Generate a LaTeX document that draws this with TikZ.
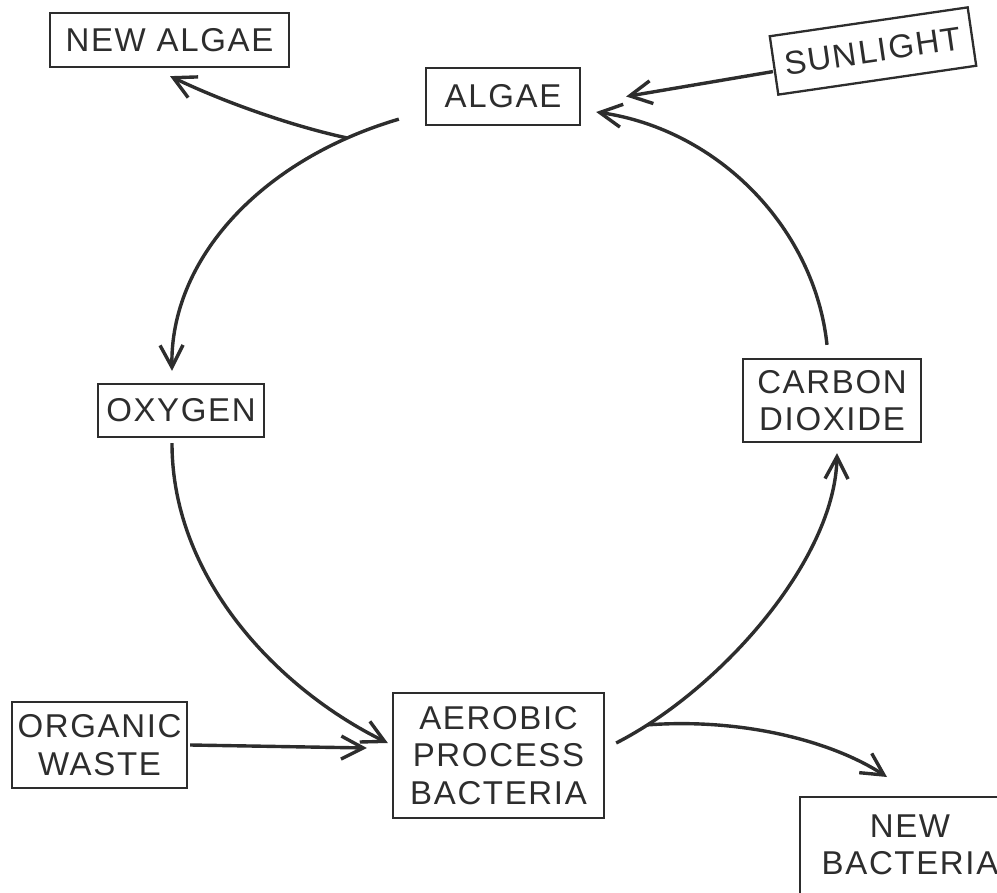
\documentclass[tikz,border=0pt]{standalone}
\usepackage{fontspec}
\setmainfont{Liberation Sans}[LetterSpace=5]
\usetikzlibrary{arrows.meta,calc}
\definecolor{ink}{RGB}{45,45,45}
\begin{document}
\begin{tikzpicture}[x=1pt,y=-1pt,
  box/.style={draw=ink, line width=2.3pt, text=ink, inner sep=0pt, align=center,
              font=\fontsize{33}{37.5}\selectfont},
  flow/.style={draw=ink, line width=3.4pt, -{Straight Barb[length=22pt,width=23pt]}}]
\useasboundingbox (0,0) rectangle (997,893);
\clip (0,0) rectangle (997,893);
% boxes
\node[box, minimum width=239pt, minimum height=54pt] (newalgae) at (169.5,40) {NEW ALGAE};
\node[box, minimum width=154pt, minimum height=57pt] (algae) at (503,96.5) {ALGAE};
\node[box, minimum width=200pt, minimum height=59pt, rotate=8.3] (sun) at (873,51) {SUNLIGHT};
\node[box, minimum width=166pt, minimum height=53pt] (oxy) at (181,410.5) {OXYGEN};
\node[box, minimum width=178pt, minimum height=83pt] (co2) at (832,400.5) {CARBON\\DIOXIDE};
\node[box, minimum width=175pt, minimum height=86pt] (org) at (99.5,745) {ORGANIC\\WASTE};
\node[box, minimum width=211pt, minimum height=125pt] (aer) at (498.5,755.5) {AEROBIC\\PROCESS\\BACTERIA};
\node[box, draw=none] (newbact) at (910,845) {NEW\\BACTERIA};
\coordinate (nbtop) at (800,797);
\draw[ink, line width=2.3pt] (nbtop) rectangle ++(220,170);
% cycle
\draw[flow] ($(co2.north)+(-5,-13)$) .. controls (815,230) and (720,130) .. ($(algae.east)+(15,15.5)$);
\draw[flow] ($(algae.south west)+(-26,-7)$) .. controls (260,160) and (170,260) .. ($(oxy.north)+(-9,-12)$) coordinate[pos=0.13] (ab);
\draw[flow] (ab) .. controls (300,128) and (230,105) .. ($(newalgae.south)+(0.5,8)$);
\draw[flow] ($(sun.west)+(0,6)$) -- ($(algae.east)+(45,0)$);
\draw[flow] ($(oxy.south)+(-9,5)$) .. controls (172,580) and (280,690) .. ($(aer.west)+(-4,-12.5)$);
\draw[flow] ($(org.east)+(2,0)$) -- ($(aer.west)+(-25,-7.5)$);
\draw[flow] ($(aer.east)+(11,-12.5)$) .. controls (720,690) and (835,560) .. ($(co2.south)+(5,10)$) coordinate[pos=0.1] (bb);
\draw[flow] (bb) .. controls (740,718) and (830,740) .. ($(nbtop)+(87,-20)$);
\end{tikzpicture}
\end{document}
